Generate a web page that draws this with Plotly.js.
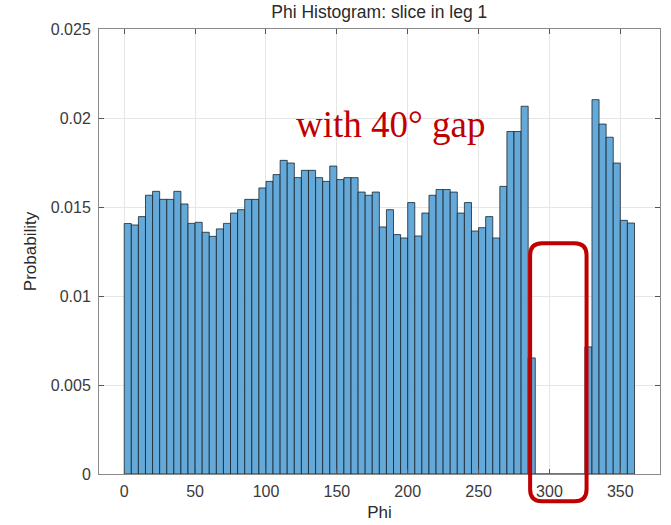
<!DOCTYPE html>
<html>
<head>
<meta charset="utf-8">
<script src="https://cdn.plot.ly/plotly-3.0.1.min.js"></script>
<style>
  html, body { margin: 0; padding: 0; background: #ffffff; }
  #chart { width: 671px; height: 525px; }
</style>
</head>
<body>
<div id="chart"></div>
<script>
// Bin left edges (degrees), bin width 5
const binStarts = [
  0, 5, 10, 15, 20, 25, 30, 35, 40, 45,
  50, 55, 60, 65, 70, 75, 80, 85, 90, 95,
  100, 105, 110, 115, 120, 125, 130, 135, 140, 145,
  150, 155, 160, 165, 170, 175, 180, 185, 190, 195,
  200, 205, 210, 215, 220, 225, 230, 235, 240, 245,
  250, 255, 260, 265, 270, 275, 280, 285, 290, 295,
  300, 305, 310, 315, 320, 325, 330, 335, 340, 345,
  350, 355
];
const binWidth = 5;

// Probability per bin
const probability = [
  0.01407, 0.01399, 0.01446, 0.01566, 0.01588, 0.01543, 0.01543, 0.01588, 0.01517, 0.01408,
  0.01414, 0.01358, 0.01335, 0.01377, 0.01408, 0.01466, 0.01485, 0.01543, 0.01543, 0.01607,
  0.01644, 0.01682, 0.01762, 0.01747, 0.01665, 0.01706, 0.01706, 0.01665, 0.01644, 0.01730,
  0.01654, 0.01665, 0.01665, 0.01584, 0.01566, 0.01584, 0.01388, 0.01485, 0.01345, 0.01326,
  0.01525, 0.01337, 0.01466, 0.01566, 0.01598, 0.01598, 0.01584, 0.01466, 0.01525, 0.01365,
  0.01384, 0.01446, 0.01326, 0.01616, 0.01924, 0.01924, 0.02066, 0.00652, 0, 0,
  0, 0, 0, 0, 0, 0.00714, 0.02103, 0.01966, 0.01892, 0.01747,
  0.01425, 0.01410
];

const xTicks = [0, 50, 100, 150, 200, 250, 300, 350];
const yTicks = [0, 0.005, 0.01, 0.015, 0.02, 0.025];
const yTickLabels = ['0', '0.005', '0.01', '0.015', '0.02', '0.025'];

const titleText = 'Phi Histogram: slice in leg 1';
const xLabel = 'Phi';
const yLabel = 'Probability';
const noteText = 'with 40° gap';

const trace = {
  type: 'bar',
  x: binStarts,
  y: probability,
  width: binWidth,
  offset: 0,
  marker: {
    color: '#64a9d8',
    line: { color: 'rgba(20,30,40,0.85)', width: 0.9 }
  },
  hoverinfo: 'x+y'
};

// plot area in pixels: left 98.5, right 660, top 28.7, bottom 473.7
const plotW = 561.5, plotH = 445;
function px2paperX(px) { return (px - 98.5) / plotW; }
function px2paperY(py) { return (473.7 - py) / plotH; }

const x0 = px2paperX(530), x1 = px2paperX(586.5);
const yt = px2paperY(243), yb = px2paperY(501);
const rx = 12 / plotW, ry = 12 / plotH;
const rectPath =
  `M ${x0 + rx},${yt} L ${x1 - rx},${yt} Q ${x1},${yt} ${x1},${yt - ry} ` +
  `L ${x1},${yb + ry} Q ${x1},${yb} ${x1 - rx},${yb} ` +
  `L ${x0 + rx},${yb} Q ${x0},${yb} ${x0},${yb + ry} ` +
  `L ${x0},${yt - ry} Q ${x0},${yt} ${x0 + rx},${yt} Z`;

const fam = 'Liberation Sans, Arial, sans-serif';
const axisFont = { family: fam, size: 16, color: '#3a3a3a' };
const labelFont = { family: fam, size: 17, color: '#2a2a2a' };

const layout = {
  width: 671,
  height: 525,
  margin: { l: 98.5, r: 11, t: 28.7, b: 51.3, pad: 0 },
  paper_bgcolor: '#ffffff',
  plot_bgcolor: '#ffffff',
  showlegend: false,
  bargap: 0,
  title: {
    text: titleText,
    font: { family: fam, size: 17.5, color: '#2a2a2a' },
    x: 0.5 * (98.5 + 660) / 671,
    xanchor: 'center',
    y: 1 - 12 / 525,
    yanchor: 'middle'
  },
  xaxis: {
    range: [-17.8, 378],
    tickvals: xTicks,
    ticktext: xTicks.map(String),
    ticks: 'inside',
    ticklen: 5,
    tickcolor: '#555555',
    ticklabelstandoff: 3,
    showline: true,
    linecolor: '#8a8a8a',
    linewidth: 1,
    mirror: 'ticks',
    showgrid: true,
    gridcolor: '#e6e6e6',
    gridwidth: 1,
    zeroline: false,
    tickfont: axisFont,
    title: { text: xLabel, font: labelFont, standoff: 6 }
  },
  yaxis: {
    range: [0, 0.025],
    tickvals: yTicks,
    ticktext: yTickLabels,
    ticks: 'inside',
    ticklen: 5,
    tickcolor: '#555555',
    ticklabelstandoff: 4,
    showline: true,
    linecolor: '#8a8a8a',
    linewidth: 1,
    mirror: 'ticks',
    showgrid: true,
    gridcolor: '#e6e6e6',
    gridwidth: 1,
    zeroline: false,
    tickfont: axisFont,
    title: { text: yLabel, font: labelFont, standoff: 9 }
  },
  annotations: [
    {
      text: noteText,
      xref: 'paper', yref: 'paper',
      x: px2paperX(391), y: px2paperY(124),
      xanchor: 'center', yanchor: 'middle',
      showarrow: false,
      font: { family: 'Liberation Serif, Times New Roman, serif', size: 37, color: '#c00000' }
    }
  ],
  shapes: [
    {
      type: 'path',
      xref: 'paper', yref: 'paper',
      path: rectPath,
      line: { color: '#c00000', width: 4 },
      fillcolor: 'rgba(0,0,0,0)',
      layer: 'above'
    }
  ]
};

Plotly.newPlot('chart', [trace], layout, { displayModeBar: false, staticPlot: true });
</script>
</body>
</html>
